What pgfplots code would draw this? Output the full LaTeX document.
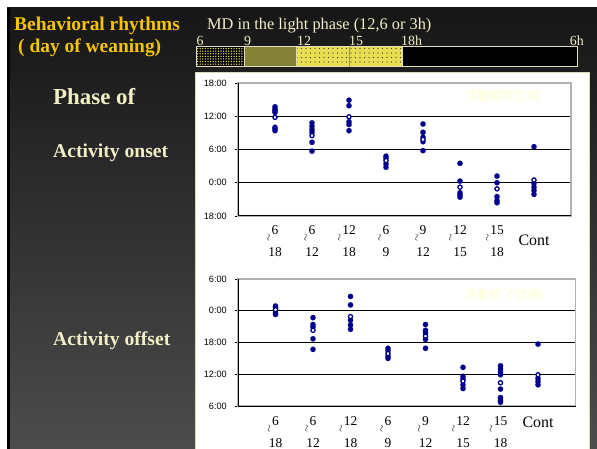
\documentclass[border=0pt]{standalone}
\usepackage{fontspec}
\setmainfont{Liberation Serif}
\setsansfont{Liberation Sans}
\newfontfamily\cjk{Noto Sans CJK JP}
\usepackage{graphicx}
\usepackage{pgfplots}
\pgfplotsset{compat=1.18}
\usetikzlibrary{patterns,patterns.meta}
\definecolor{gold}{HTML}{F5C400}
\definecolor{cream}{HTML}{F2EEC6}
\definecolor{navyd}{HTML}{00008C}
\definecolor{paleY}{HTML}{FFFFD0}
\definecolor{olv}{HTML}{8A8838}
\definecolor{ylw}{HTML}{E8DE52}
\newcommand{\rg}[2]{\llap{\raisebox{-7bp}{\rotatebox{90}{\fontsize{10}{10}\selectfont$\sim$}}\kern0.5bp}#1\\#2}
\pgfplotsset{
  slide/.style={
    anchor=south west, scale only axis, clip=false,
    xmin=0, xmax=9, xtick={1,...,8},
    ymajorgrids, major grid style={black, line width=0.8bp},
    axis line style={draw=gray!60, line width=1.1bp},
    xtick style={draw=none},
    ytick pos=left,
    ytick style={draw=black, line width=0.6bp}, tick align=outside, major tick length=3bp,
    yticklabel style={font=\sffamily\fontsize{9.2}{10}\selectfont, inner sep=0pt, xshift=-8bp},
    xticklabel style={anchor=north, inner sep=0pt, align=center, font=\fontsize{13.5}{22.5}\selectfont},
  },
  filled/.style={only marks, mark=*, mark size=2.7pt, mark options={fill=navyd, draw=navyd, line width=0.1pt}},
  open/.style={only marks, mark=*, mark size=2.1pt, mark options={fill=white, draw=navyd, line width=1.3pt}},
}
\begin{document}
\begin{tikzpicture}
\useasboundingbox (0,0) rectangle (597bp,449bp);
\fill[white] (0,0) rectangle (597bp,449bp);
\shade[top color={rgb,255:red,22;green,22;blue,22}, bottom color={rgb,255:red,76;green,76;blue,76}] (7bp,0) rectangle (597bp,441bp);
\fill[black] (7bp,0) rectangle (10bp,441bp);
% titles
\node[anchor=base west, inner sep=0pt, text=gold, font=\fontsize{19.5}{20}\selectfont\bfseries] at (14bp,418.5bp) {Behavioral rhythms};
\node[anchor=base west, inner sep=0pt, text=gold, font=\fontsize{19.5}{20}\selectfont\bfseries] at (18bp,396bp) {( day of weaning)};
\node[anchor=base west, inner sep=0pt, text=cream, font=\fontsize{23}{24}\selectfont\bfseries] at (53bp,344bp) {Phase of};
\node[anchor=base west, inner sep=0pt, text=cream, font=\fontsize{19.7}{20}\selectfont\bfseries] at (53bp,291.7bp) {Activity onset};
\node[anchor=base west, inner sep=0pt, text=cream, font=\fontsize{19.7}{20}\selectfont\bfseries] at (53bp,103bp) {Activity offset};
\node[anchor=base west, inner sep=0pt, text=cream, font=\fontsize{16.4}{17}\selectfont] at (207bp,419.7bp) {MD in the light phase (12,6 or 3h)};
% light-phase bar
\fill[black] (196.5bp,382.3bp) rectangle (244bp,402.3bp);
\fill[pattern={Dots[distance=2.6bp, radius=0.75bp]}, pattern color=ylw] (196.5bp,382.3bp) rectangle (244bp,402.3bp);
\fill[olv] (244bp,382.3bp) rectangle (296bp,402.3bp);
\fill[pattern={Dots[distance=2bp, radius=0.45bp]}, pattern color=black!75] (244bp,382.3bp) rectangle (296bp,402.3bp);
\fill[ylw] (296bp,382.3bp) rectangle (402.5bp,402.3bp);
\fill[pattern={Dots[distance=4.5bp, radius=0.6bp]}, pattern color=black!80] (296bp,382.3bp) rectangle (402.5bp,402.3bp);
\fill[black] (402.5bp,382.3bp) rectangle (577bp,402.3bp);
\draw[cream!85!gray, line width=0.9bp] (196.5bp,382.3bp) rectangle (577bp,402.3bp);
\foreach \xb in {244,296,402.5} \draw[cream!85!gray, line width=0.9bp] (\xb bp,382.3bp) -- (\xb bp,402.3bp);
\draw[ylw!70!black, line width=0.5bp] (349bp,382.3bp) -- (349bp,402.3bp);
\foreach \xl/\tl in {196.5/6,244/9,297/12,349/15,401/18h}
  \node[anchor=base west, inner sep=0pt, text=cream, font=\fontsize{14}{14}\selectfont] at (\xl bp,403.8bp) {\tl};
\node[anchor=base east, inner sep=0pt, text=cream, font=\fontsize{14}{14}\selectfont] at (584bp,403.8bp) {6h};
% white panel
\fill[white] (195bp,0) rectangle (589bp,377bp);
\draw[cream!80!gray, line width=0.8bp] (195bp,-1bp) -- (195bp,377bp) -- (589bp,377bp) -- (589bp,-1bp);
% ---------- onset ----------
\begin{axis}[slide, at={(238bp,233bp)}, width=333bp, height=133bp,
  ymin=-6, ymax=18, ytick={-6,0,6,12,18}, yticklabels={18:00,0:00,6:00,12:00,18:00},
  xticklabel style={yshift=-6bp},
  xticklabels={{\rg{6}{18}},{\rg{6}{12}},{\rg{12}{18}},{\rg{6}{9}},{\rg{9}{12}},{\rg{12}{15}},{\rg{15}{18}},{\fontsize{16}{16}\selectfont\rule{0pt}{20bp}Cont}}]
\draw[black, line width=1bp] (rel axis cs:0,0) -- (rel axis cs:1,0);
\draw[black, line width=1bp] (rel axis cs:0,0) -- (rel axis cs:0,1);
\node[text=paleY, font=\cjk\fontsize{12.7}{13}\selectfont, inner sep=0pt] at (axis cs:7.15,15.7) {活動開始位相};
\addplot[filled] coordinates {
(1,13.7)(1,13.3)(1,13.0)(1,12.7)(1,10.0)(1,9.7)(1,9.4)
(2,10.8)(2,10.2)(2,9.6)(2,9.1)(2,7.3)(2,5.7)
(3,14.9)(3,13.9)(3,11.0)(3,10.5)(3,9.4)
(4,4.8)(4,4.4)(4,3.4)(4,2.8)
(5,10.6)(5,9.1)(5,8.2)(5,7.4)(5,5.8)
(6,3.5)(6,0.3)(6,-1.8)(6,-2.2)(6,-2.6)
(7,1.2)(7,0.0)(7,-2.5)(7,-3.2)(7,-3.6)
(8,6.5)(8,-0.1)(8,-0.8)(8,-1.4)(8,-2.1)
};
\addplot[open] coordinates {
(1,11.8)(2,8.5)(3,11.9)(4,4.0)(5,7.8)(6,-0.8)(7,-1.1)(8,0.5)
};
\end{axis}
% ---------- offset ----------
\begin{axis}[slide, at={(238bp,43bp)}, width=337.5bp, height=127bp,
  ymin=6, ymax=30, ytick={6,12,18,24,30}, yticklabels={6:00,12:00,18:00,0:00,6:00},
  xticklabel style={yshift=-7bp},
  xticklabels={{\rg{6}{18}},{\rg{6}{12}},{\rg{12}{18}},{\rg{6}{9}},{\rg{9}{12}},{\rg{12}{15}},{\rg{15}{18}},{\fontsize{16}{16}\selectfont\rule{0pt}{11.5bp}Cont}}]
\draw[black, line width=1bp] (rel axis cs:0,0) -- (rel axis cs:1,0);
\draw[black, line width=1bp] (rel axis cs:0,0) -- (rel axis cs:0,1);
\node[text=paleY, font=\cjk\fontsize{12.7}{13}\selectfont, inner sep=0pt] at (axis cs:7.1,27.1) {活動終了位相I};
\addplot[filled] coordinates {
(1,24.9)(1,24.6)(1,23.6)(1,23.3)
(2,22.7)(2,21.4)(2,20.9)(2,18.7)(2,16.7)
(3,26.7)(3,25.1)(3,22.2)(3,21.3)(3,20.5)
(4,16.9)(4,16.4)(4,15.4)(4,15.0)
(5,21.4)(5,20.3)(5,19.8)(5,18.6)(5,16.9)
(6,13.3)(6,11.6)(6,11.1)(6,10.0)(6,9.3)
(7,13.6)(7,13.0)(7,12.4)(7,11.9)(7,9.2)(7,7.6)(7,7.1)(7,6.7)
(8,17.7)(8,11.2)(8,10.6)(8,10.0)
};
\addplot[open] coordinates {
(1,24.2)(2,20.3)(3,22.9)(4,15.9)(5,19.2)(6,10.7)(7,10.4)(8,11.9)
};
\end{axis}
\end{tikzpicture}
\end{document}
